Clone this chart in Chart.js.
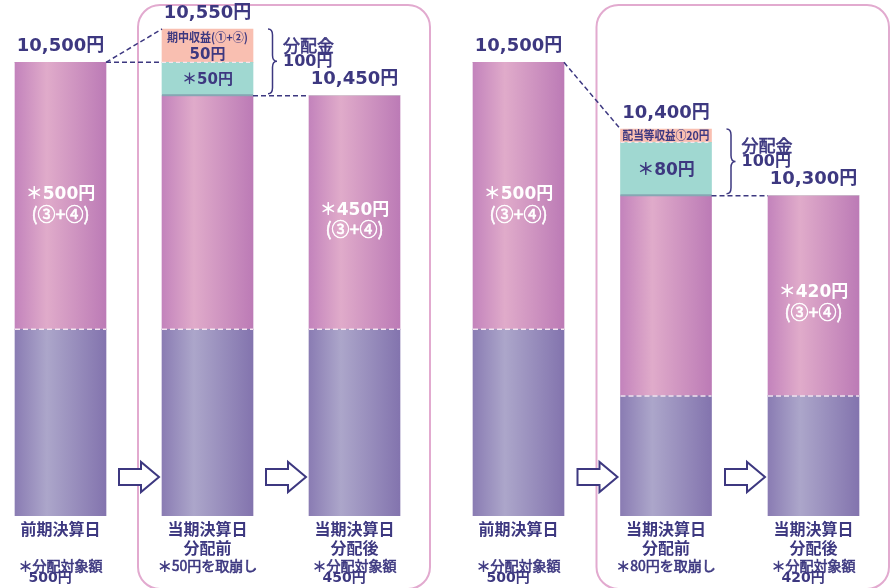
<!DOCTYPE html>
<html lang="ja">
<head>
<meta charset="utf-8">
<title>分配金のイメージ</title>
<script src="https://cdn.jsdelivr.net/npm/chart.js@4.4.1/dist/chart.umd.min.js"></script>
<style>
  html, body { margin: 0; padding: 0; background: #fff; }
  #wrap { position: relative; width: 891px; height: 588px; overflow: hidden; }
  .panel { position: absolute; top: 0; height: 588px; }
  #leftPanel { left: 0; width: 445px; }
  #rightPanel { left: 445px; width: 446px; }
</style>
</head>
<body>
<div id="wrap">
  <div class="panel" id="leftPanel"><canvas id="leftChart"></canvas></div>
  <div class="panel" id="rightPanel"><canvas id="rightChart"></canvas></div>
</div>
<script>
// 決算日ごとの区分
const categories = [
  ['前期決算日'], ['当期決算日', '分配前'], ['当期決算日', '分配後'],
  ['前期決算日'], ['当期決算日', '分配前'], ['当期決算日', '分配後']
];
// 基準価額の内訳（円）
const principal = [10100, 10100, 10100, 10100, 10000, 10000];
const reserve   = [400, 350, 350, 400, 300, 300];   // ③+④ の部分
const drawdown  = [0, 50, 0, 0, 80, 0];             // 取崩し分
const income    = [0, 50, 0, 0, 20, 0];             // 期中収益
// 棒の中と下の文字
const reserveLabels  = ['＊500円', '', '＊450円', '＊500円', '', '＊420円'];
const drawdownLabels = ['', '＊50円', '', '', '＊80円', ''];
const incomeLabels   = [[], ['期中収益(①+②)', '50円'], [], [], ['配当等収益①20円'], []];
const notes = [
  ['＊分配対象額', '500円'], ['＊50円を取崩し'], ['＊分配対象額', '450円'],
  ['＊分配対象額', '500円'], ['＊80円を取崩し'], ['＊分配対象額', '420円']
];

const NAVY = '#3d3880';
const BAR_W = 91;
const LATIN = '"DejaVu Sans", "Noto Sans CJK JP", sans-serif';
const CJK = '"Noto Sans CJK JP", sans-serif';

function gradientFill(stops) {
  return (c) => {
    const chart = c.chart, xs = chart.scales.x;
    if (!xs || !chart.chartArea || c.dataIndex === undefined) return stops[1];
    const cx = xs.getPixelForValue(c.dataIndex);
    const g = chart.ctx.createLinearGradient(cx - BAR_W / 2, 0, cx + BAR_W / 2, 0);
    g.addColorStop(0, stops[0]);
    g.addColorStop(0.35, stops[1]);
    g.addColorStop(1, stops[2]);
    return g;
  };
}

function dashed(ctx, x1, y1, x2, y2, color, pattern, width) {
  ctx.save();
  ctx.strokeStyle = color;
  ctx.lineWidth = width;
  ctx.setLineDash(pattern);
  ctx.beginPath();
  ctx.moveTo(x1, y1);
  ctx.lineTo(x2, y2);
  ctx.stroke();
  ctx.restore();
}

function arrow(ctx, tipX, cy) {
  const x0 = tipX - 40;
  ctx.save();
  ctx.beginPath();
  ctx.moveTo(x0, cy - 8);
  ctx.lineTo(x0 + 22, cy - 8);
  ctx.lineTo(x0 + 22, cy - 15);
  ctx.lineTo(tipX, cy);
  ctx.lineTo(x0 + 22, cy + 15);
  ctx.lineTo(x0 + 22, cy + 8);
  ctx.lineTo(x0, cy + 8);
  ctx.closePath();
  ctx.fillStyle = '#fff';
  ctx.fill();
  ctx.strokeStyle = NAVY;
  ctx.lineWidth = 2;
  ctx.stroke();
  ctx.restore();
}

function brace(ctx, x, top, bottom) {
  const w = 9, h = w / 2, mid = (top + bottom) / 2, r = 6;
  ctx.save();
  ctx.strokeStyle = NAVY;
  ctx.lineWidth = 1.5;
  ctx.beginPath();
  ctx.moveTo(x, top);
  ctx.quadraticCurveTo(x + h, top, x + h, top + r);
  ctx.lineTo(x + h, mid - r);
  ctx.quadraticCurveTo(x + h, mid, x + w, mid);
  ctx.quadraticCurveTo(x + h, mid, x + h, mid + r);
  ctx.lineTo(x + h, bottom - r);
  ctx.quadraticCurveTo(x + h, bottom, x, bottom);
  ctx.stroke();
  ctx.restore();
}

// heavy: 細い字を少し太らせる輪郭の太さ
function text(ctx, str, x, y, font, color, align, maxW, heavy) {
  ctx.save();
  ctx.font = font;
  ctx.fillStyle = color;
  ctx.textAlign = align || 'center';
  ctx.textBaseline = 'middle';
  const fit = maxW && ctx.measureText(str).width > maxW;
  if (fit) ctx.fillText(str, x, y, maxW);
  else ctx.fillText(str, x, y);
  if (heavy) {
    ctx.strokeStyle = color;
    ctx.lineWidth = heavy;
    if (fit) ctx.strokeText(str, x, y, maxW);
    else ctx.strokeText(str, x, y);
  }
  ctx.restore();
}

const diagram = {
  id: 'diagram',
  beforeDatasetsDraw(chart) {
    const { ctx } = chart;
    const xs = chart.scales.x;
    const l = xs.getPixelForValue(1) - BAR_W / 2 - 24;
    const r = xs.getPixelForValue(2) + BAR_W / 2 + 30;
    ctx.save();
    ctx.strokeStyle = '#e2aacf';
    ctx.lineWidth = 2;
    ctx.beginPath();
    ctx.roundRect(l, 5, r - l, 584, 22);
    ctx.stroke();
    ctx.restore();
  },
  afterDatasetsDraw(chart, args, opts) {
    const { ctx, chartArea } = chart;
    const xs = chart.scales.x, ys = chart.scales.y;
    const from = opts.from;
    const bars = chart.data.labels.map((_, i) => {
      const g = from + i;
      const cx = xs.getPixelForValue(i);
      const base = principal[g], mid = base + reserve[g];
      const dd = mid + drawdown[g], top = dd + income[g];
      return {
        g, cx, l: cx - BAR_W / 2, r: cx + BAR_W / 2, top,
        yBase: ys.getPixelForValue(base), yMid: ys.getPixelForValue(mid),
        yDd: ys.getPixelForValue(dd), yTop: ys.getPixelForValue(top)
      };
    });

    bars.forEach((b) => {
      const g = b.g;
      // 内訳の境目
      dashed(ctx, b.l, b.yBase, b.r, b.yBase, '#f2e4f0', [5, 3], 1.5);
      if (drawdown[g] > 0) {
        ctx.save();
        ctx.fillStyle = '#86a7b3';
        ctx.fillRect(b.l, b.yMid - 1.5, BAR_W, 2);
        ctx.restore();
      }
      if (income[g] > 0 && drawdown[g] > 0) {
        dashed(ctx, b.l, b.yDd, b.r, b.yDd, '#f6e6ee', [4, 3], 1.2);
      }
      // 基準価額
      text(ctx, b.top.toLocaleString('en-US') + '円', b.cx, b.yTop - 16, 'bold 18px ' + LATIN, NAVY);
      // ③+④
      if (reserveLabels[g]) {
        const c = b.yMid + 0.53 * (b.yBase - b.yMid);
        text(ctx, reserveLabels[g], b.cx, c - 9, 'bold 17px ' + LATIN, '#fff');
        text(ctx, '(③+④)', b.cx, c + 10, '18px ' + CJK, '#fff', 'center', 0, 0.6);
      }
      if (drawdownLabels[g]) {
        const size = Math.min(17, Math.round((b.yMid - b.yDd) * 0.45));
        text(ctx, drawdownLabels[g], b.cx, (b.yMid + b.yDd) / 2 + 1, 'bold ' + size + 'px ' + LATIN, NAVY);
      }
      const inc = incomeLabels[g];
      if (inc.length === 2) {
        const c = (b.yDd + b.yTop) / 2;
        text(ctx, inc[0], b.cx, c - 8, 'bold 12px ' + CJK, NAVY, 'center', BAR_W - 10);
        text(ctx, inc[1], b.cx, c + 9, 'bold 15px ' + LATIN, NAVY);
      } else if (inc.length === 1) {
        text(ctx, inc[0], b.cx, (b.yDd + b.yTop) / 2, 'bold 12px ' + CJK, NAVY, 'center', BAR_W - 4);
      }
      // 注記
      const note = notes[g];
      text(ctx, note[0], b.cx, chartArea.bottom + 50, '14px ' + CJK, NAVY, 'center', 0, 0.6);
      if (note[1]) {
        ctx.font = '14px ' + CJK;
        const left = b.cx - ctx.measureText(note[0]).width / 2 + 10;
        text(ctx, note[1], left, chartArea.bottom + 62, 'bold 14px ' + LATIN, NAVY, 'left');
      }
    });

    // 分配前後のつながり
    const [b0, b1, b2] = bars;
    dashed(ctx, b0.r, b0.yTop, b1.l, b1.yTop, NAVY, [5, 3], 1.5);
    if (b1.top > b0.top) dashed(ctx, b0.r, b0.yTop, b1.l, b0.yTop, NAVY, [5, 3], 1.5);
    dashed(ctx, b1.r, b1.yMid, b2.l, b2.yTop, NAVY, [5, 3], 1.5);

    // 分配金
    brace(ctx, b1.r + 15, b1.yTop, b1.yMid - 2);
    const paid = drawdown[b1.g] + income[b1.g];
    const mid = (b1.yTop + b1.yMid) / 2;
    text(ctx, '分配金', b1.r + 30, mid - 17, '17px ' + CJK, NAVY, 'left', 0, 0.6);
    text(ctx, paid + '円', b1.r + 30, mid - 1, 'bold 16px ' + LATIN, NAVY, 'left');

    // 矢印
    arrow(ctx, b1.l - 3, chartArea.bottom - 39);
    arrow(ctx, b2.l - 3, chartArea.bottom - 39);
  }
};

function makePanel(canvasId, from, padLeft, padRight) {
  const to = from + 3;
  const common = {
    barThickness: BAR_W,
    borderWidth: 0,
    clip: { left: false, top: false, right: false, bottom: 0 }
  };
  return new Chart(document.getElementById(canvasId), {
    type: 'bar',
    data: {
      labels: categories.slice(from, to),
      datasets: [
        { ...common, label: '元本', data: principal.slice(from, to),
          backgroundColor: gradientFill(['#8a7cb3', '#aca6ca', '#8374ae']) },
        { ...common, label: '③+④', data: reserve.slice(from, to),
          backgroundColor: gradientFill(['#c383bc', '#e0abca', '#bc7bb6']) },
        { ...common, label: '取崩し', data: drawdown.slice(from, to), backgroundColor: '#a0d8d1' },
        { ...common, label: '収益', data: income.slice(from, to), backgroundColor: '#f9bfb1' }
      ]
    },
    options: {
      responsive: true,
      maintainAspectRatio: false,
      animation: false,
      devicePixelRatio: 1,
      layout: { padding: { top: 29, bottom: 0, left: padLeft, right: padRight } },
      plugins: {
        legend: { display: false },
        tooltip: { enabled: false },
        diagram: { from: from }
      },
      scales: {
        x: {
          stacked: true,
          offset: false,
          grid: { display: false, drawTicks: false },
          border: { display: false },
          ticks: {
            color: NAVY,
            font: { family: CJK, size: 16, weight: 'bold', lineHeight: 1.2 },
            padding: 3,
            maxRotation: 0,
            autoSkip: false
          },
          afterFit: (s) => { s.height = 72; }
        },
        y: { stacked: true, display: false, min: 9820, max: 10550 }
      }
    },
    plugins: [diagram]
  });
}

makePanel('leftChart', 0, 60.5, 90.5);
makePanel('rightChart', 3, 73.5, 77.5);
</script>
</body>
</html>
